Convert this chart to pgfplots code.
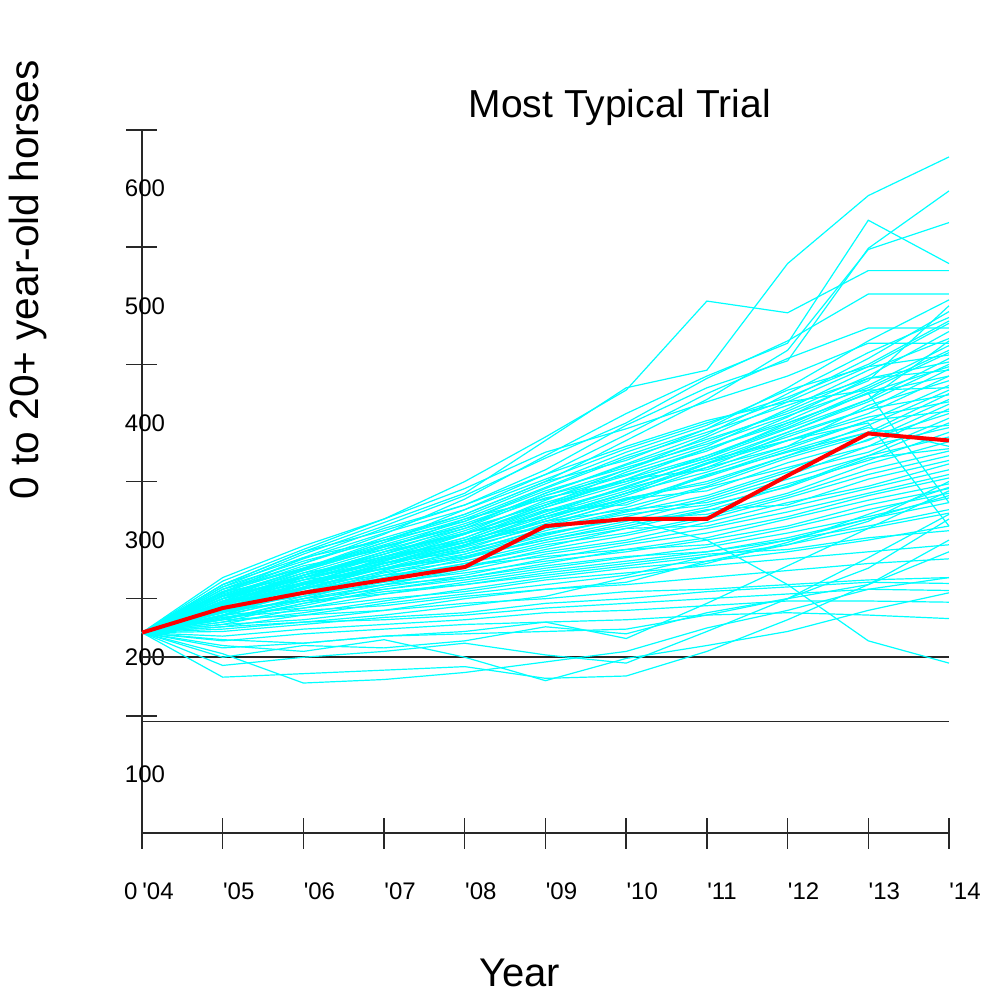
\documentclass[border=0pt]{standalone}
\usepackage{fontspec}
\setmainfont{Liberation Sans}
\usepackage{pgfplots}
\usepackage{pgfplotstable}
\pgfplotsset{compat=1.18}
\definecolor{aqua}{RGB}{0,255,255}
\definecolor{axisgray}{RGB}{40,40,40}

% one row per simulated trial, 2004..2014
\pgfplotstableread{
run y04 y05 y06 y07 y08 y09 y10 y11 y12 y13 y14
a1 221 262 290 315 340 385 430 445 536 594 627
a2 221 268 295 318 350 388 428 504 494 530 530
a3 221 258 280 305 335 372 408 440 468 573 536
a4 221 255 285 310 330 360 398 430 453 549 598
a5 221 250 276 300 322 350 385 420 462 548 571
a6 221 260 288 312 338 370 400 438 470 510 510
a7 221 252 275 298 326 356 390 425 455 481 481
a8 221 265 292 318 344 375 395 418 440 468 468
a9 221 248 272 292 318 345 372 395 430 470 505
a10 221 256 280 302 322 350 368 395 420 455 495
a11 221 245 268 290 312 340 365 390 425 460 490
a12 221 262 285 300 320 348 375 398 428 448 485
a13 221 250 270 288 310 338 360 384 410 440 478
a14 221 242 262 285 305 330 358 380 412 445 472
a15 221 258 276 298 318 335 355 378 402 432 466
a16 221 247 268 282 305 328 352 372 398 428 460
a17 221 253 275 295 312 336 350 370 395 420 455
a18 221 240 260 280 300 325 345 368 392 418 450
a19 221 246 266 286 298 322 342 366 388 412 446
a20 221 255 278 292 310 330 352 360 385 408 440
a21 221 238 258 278 296 318 338 362 380 415 436
a22 221 250 263 283 302 326 330 355 378 402 432
a23 221 244 270 290 306 320 335 350 372 398 428
a24 221 236 256 274 292 314 332 356 375 392 425
a25 221 252 272 284 298 312 328 346 370 390 420
a26 221 241 262 278 295 316 335 342 366 385 416
a27 221 248 264 281 290 310 325 345 362 380 412
a28 221 235 252 270 288 308 324 338 360 386 408
a29 221 243 259 276 286 304 320 336 358 375 404
a30 221 256 268 286 300 316 326 332 352 372 400
a31 221 232 250 268 284 302 316 334 355 380 396
a32 221 246 258 273 285 300 314 328 348 368 392
a33 221 239 255 272 282 298 310 325 346 372 388
a34 221 250 268 280 292 306 318 322 340 365 384
a35 221 244 262 276 290 310 322 330 345 370 378
a36 221 238 254 268 280 296 306 320 338 360 376
a37 221 233 248 262 276 292 304 318 336 356 372
a38 221 252 266 275 286 300 312 326 330 352 368
a39 221 240 256 270 278 290 300 315 332 346 365
a40 221 246 259 266 280 294 310 312 328 344 360
a41 221 236 250 262 274 288 298 310 324 340 356
a42 221 230 246 260 270 284 296 306 320 338 353
a43 221 248 262 270 278 286 292 302 318 334 348
a44 221 242 252 264 272 282 290 300 312 330 344
a45 221 234 244 258 268 280 292 296 310 326 340
a46 221 238 250 258 266 276 285 294 306 320 336
a47 221 228 242 254 264 274 282 290 302 318 332
a48 221 244 254 262 268 278 286 290 300 312 326
a49 221 232 246 256 262 270 278 286 296 310 323
a50 221 230 238 248 258 268 276 282 290 300 312
a51 221 240 248 254 262 272 280 288 292 302 308
a52 221 226 236 246 254 262 270 286 300 318 338
a53 221 236 242 250 256 266 272 278 284 290 296
a54 221 228 232 240 250 258 264 282 296 316 350
a55 221 234 240 244 252 258 262 268 274 280 284
a56 221 224 230 236 244 252 268 280 298 322 345
a57 221 232 236 240 246 250 256 258 262 266 268
a58 221 222 228 234 238 246 250 256 260 264 263
a59 221 226 230 232 236 242 246 250 254 258 257
a60 221 218 224 228 232 238 240 244 248 248 247
a61 221 214 220 224 228 230 232 236 238 236 233
a62 221 208 212 218 220 222 224 236 250 276 318
a63 221 250 270 290 305 330 350 370 400 425 332
a64 221 242 260 280 298 320 340 365 385 400 312
a65 221 254 274 294 314 338 356 376 405 438 452
a66 221 246 270 288 308 332 352 378 400 425 440
a67 221 260 282 300 316 342 362 382 406 430 462
a68 221 238 262 284 302 328 348 372 396 426 448
a69 221 252 268 288 306 320 340 365 392 420 470
a70 221 244 266 282 300 324 344 362 390 412 424
a71 221 256 276 296 316 344 370 392 415 438 445
a72 221 236 260 280 298 322 346 368 385 405 418
a73 221 248 270 286 306 334 360 388 418 448 458
a74 221 242 264 278 296 318 340 358 380 402 410
a75 221 258 284 306 326 352 378 400 422 450 487
a76 221 250 274 294 312 340 364 386 408 436 500
a77 221 240 258 276 294 312 334 354 376 396 380
a78 221 246 262 280 296 316 336 348 372 392 398
a79 221 262 290 308 330 356 380 402 418 428 430
a80 221 245 262 276 288 305 318 300 262 214 195
a81 221 183 186 189 192 182 184 205 232 262 300
a82 221 203 178 181 187 196 205 225 240 258 268
a83 221 193 200 205 212 202 195 222 250 285 322
a84 221 210 205 215 200 180 199 210 222 240 255
a85 221 215 212 218 222 230 216 246 278 310 342
a86 221 200 210 208 214 226 220 238 250 262 290
}\runs
\pgfplotstabletranspose[colnames from=run]\byyear{\runs}

\begin{document}
\begin{tikzpicture}
\useasboundingbox (-71pt,-80pt) rectangle (423.5pt,416.5pt);
\begin{axis}[
  at={(0,0)}, anchor=south west,
  scale only axis, width=403.5pt, height=351.5pt,
  xmin=0, xmax=10, ymin=50, ymax=650,
  axis lines=left, axis line style={-, line width=0.8pt, axisgray},
  clip=false,
  tick align=center, major tick length=15.5pt,
  every tick/.style={axisgray, line width=0.7pt},
  xtick={0,...,10},
  xticklabels={\llap{0\hspace{2.5pt}}\textquotesingle04,\textquotesingle05,\textquotesingle06,\textquotesingle07,\textquotesingle08,\textquotesingle09,\textquotesingle10,\textquotesingle11,\textquotesingle12,\textquotesingle13,\textquotesingle14},
  xticklabel style={anchor=north west, inner sep=0pt, yshift=-17pt, font=\fontsize{12}{14}\selectfont},
  ytick={150,250,...,650}, yticklabels={,,,,,},
  extra y ticks={100,200,...,600},
  extra y tick labels={100,200,300,400,500,600},
  extra y tick style={major tick length=0pt, yticklabel style={anchor=center, xshift=1.5pt}},
  yticklabel style={font=\fontsize{12}{14}\selectfont},
  title={Most Typical Trial},
  title style={font=\fontsize{19.5}{22}\selectfont, at={(axis description cs:0.592,1.0146)}, anchor=center},
  xlabel={Year},
  xlabel style={font=\fontsize{20}{24}\selectfont, at={(axis description cs:0.468,-0.199)}, anchor=center},
  ylabel={0 to 20+ year-old horses},
  ylabel style={font=\fontsize{20.3}{24}\selectfont, at={(axis description cs:-0.1413,0.7866)}, anchor=center},
]
\addplot[axisgray, line width=0.8pt] coordinates {(0,200) (10,200)};
\addplot[axisgray, line width=0.8pt] coordinates {(0,145) (10,145)};
\pgfplotsinvokeforeach{1,...,86}{
  \addplot[aqua, line width=0.6pt] table[x expr=\coordindex, y=a#1] {\byyear};
}
\addplot[red, line width=2pt] coordinates {
(0,221) (1,242) (2,255) (3,266) (4,277) (5,312) (6,318) (7,318) (8,355) (9,391) (10,385)
};
\end{axis}
\end{tikzpicture}
\end{document}
